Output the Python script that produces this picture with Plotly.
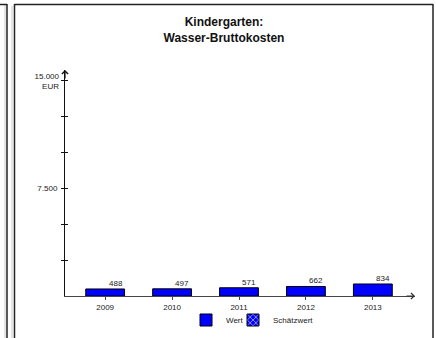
import plotly.graph_objects as go

# ---- data ----
years = ["2009", "2010", "2011", "2012", "2013"]
wert = [488, 497, 571, 662, 834]
schaetzwert = [None, None, None, None, None]
y_tickvals = [2500, 5000, 7500, 10000, 12500, 15000]
y_ticktext = ["", "", "7.500", "", "", ""]
y_top_label = "15.000<br>EUR"
title_lines = ["Kindergarten:", "Wasser-Bruttokosten"]

W, H = 436, 338
ML, MR, MT, MB = 65, 21, 70, 42
PW, PH = W - ML - MR, H - MT - MB
Y_TOP = 15000 * PH / (PH - 10)
BAR_W = 0.58
X_RANGE = [-0.6, 4.63]
FONT = "Liberation Sans, Arial, sans-serif"
TXT = "#1a1a1a"

def px_x(p):
    return (p - ML) / PW

def px_y(p):
    return (H - MB - p) / PH

fig = go.Figure()
fig.add_trace(go.Bar(
    x=years, y=wert, name="Wert", width=BAR_W, legendwidth=2,
    marker=dict(color="#0000FF", line=dict(color="#000000", width=1)),
))
fig.add_trace(go.Bar(
    x=years, y=schaetzwert, name="Schätzwert", width=BAR_W,
    marker=dict(color="#0000FF", line=dict(color="#000000", width=1),
                pattern=dict(shape="x", fgcolor="white", bgcolor="#0000FF",
                             fillmode="replace", size=5, solidity=0.25)),
))
# helper traces for the secondary axes (inner ticks / unit label)
for ax_id in ("y2", "y3"):
    fig.add_trace(go.Scatter(x=[years[0]], y=[None], yaxis=ax_id, showlegend=False,
                             hoverinfo="skip", mode="markers"))

# value labels (right-aligned to the bar's right edge)
bar_px = BAR_W * PW / (X_RANGE[1] - X_RANGE[0])
for i, v in enumerate(wert):
    fig.add_annotation(x=i, y=v, xref="x", yref="y", text=f"{v:,}".replace(",", "."),
                       showarrow=False, xanchor="right", yanchor="bottom",
                       xshift=bar_px / 2, yshift=-1,
                       font=dict(size=8, family=FONT, color=TXT))

# axis arrows
fig.add_annotation(xref="paper", yref="y", x=0, y=Y_TOP, ax=0, ay=10, text="",
                   showarrow=True, arrowhead=4, arrowsize=1, arrowwidth=1.2,
                   arrowcolor="#111")
fig.add_annotation(xref="paper", yref="y", x=1, y=0, ax=-10, ay=0, text="",
                   showarrow=True, arrowhead=4, arrowsize=1, arrowwidth=1.2,
                   arrowcolor="#333")

# frame lines (panel borders)
shapes = []
def seg(x0, y0, x1, y1, color, width):
    shapes.append(dict(type="line", xref="paper", yref="paper",
                       x0=px_x(x0), y0=px_y(y0), x1=px_x(x1), y1=px_y(y1),
                       line=dict(color=color, width=width)))
seg(5, 5, 5, 340, "#c8c8c8", 1)
seg(12, 6, 12, 340, "#c8c8c8", 1)
seg(-2, 4.5, 7, 4.5, "#222222", 1.5)
seg(7, 4, 7, 340, "#222222", 1.5)
seg(14.5, 4.5, 433, 4.5, "#222222", 1.5)
seg(14.5, 4, 14.5, 340, "#222222", 1.5)
seg(433, 4, 433, 340, "#222222", 1.5)

axis_common = dict(range=[0, Y_TOP], showgrid=False, zeroline=False, automargin=False)

fig.update_layout(
    template="none",
    width=W, height=H,
    margin=dict(l=ML, r=MR, t=MT, b=MB, pad=0, autoexpand=False),
    paper_bgcolor="white", plot_bgcolor="white",
    barmode="overlay",
    title=dict(text="<br>".join(title_lines), xref="container", yref="container",
               x=224 / W, xanchor="center", y=1 - 26 / H, yanchor="top", automargin=False,
               font=dict(size=12, family=FONT, color="#111", weight="bold")),
    font=dict(family=FONT, size=8, color=TXT),
    xaxis=dict(type="category", range=X_RANGE, showline=True, linecolor="#444",
               linewidth=1, ticks="outside", ticklen=3, tickcolor="#444", tickwidth=1,
               showgrid=False, zeroline=False, automargin=False,
               tickfont=dict(size=8, color=TXT)),
    yaxis=dict(showline=True, linecolor="#111", linewidth=1,
               ticks="outside", ticklen=3, tickcolor="#111", tickwidth=1,
               tickvals=y_tickvals, ticktext=y_ticktext,
               tickfont=dict(size=8, color=TXT), ticklabelstandoff=2, **axis_common),
    yaxis2=dict(overlaying="y", side="left", anchor="x",
                ticks="inside", ticklen=3, tickcolor="#111", tickwidth=1,
                tickvals=y_tickvals, showticklabels=False, showline=False, **axis_common),
    yaxis3=dict(overlaying="y", side="left", anchor="x", ticks="",
                tickvals=[y_tickvals[-1]], ticktext=[y_top_label], showline=False,
                tickfont=dict(size=8, color=TXT), ticklabelstandoff=5,
                ticklabelshift=1, **axis_common),
    legend=dict(orientation="h", x=px_x(186), xanchor="left", y=px_y(320),
                yanchor="middle", font=dict(size=8, family=FONT, color=TXT),
                itemwidth=30, bgcolor="rgba(0,0,0,0)", borderwidth=0,
                tracegroupgap=0, itemclick=False),
    shapes=shapes,
)

fig.write_html("out.html", config={"displayModeBar": False},
               post_script="document.body.style.margin='0';")
